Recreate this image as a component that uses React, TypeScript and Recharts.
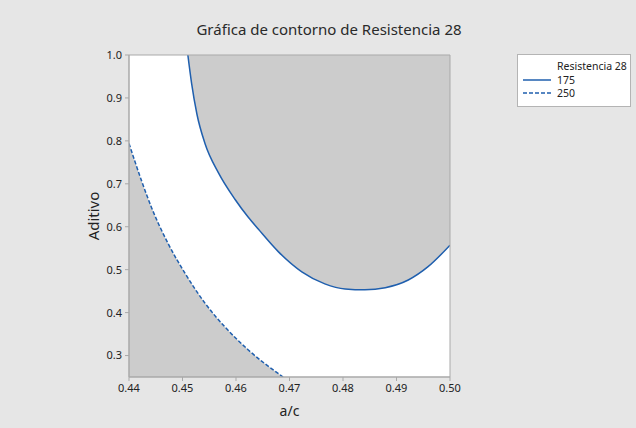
import React from 'react';
import {
    ComposedChart,
    Area,
    XAxis,
    YAxis,
    ReferenceArea,
    Legend,
    Label
} from 'recharts';

// contour 175 (solid): a/c vs Aditivo
const acSolid = [0.4510, 0.4517, 0.4527, 0.4542, 0.4567, 0.4598, 0.4623, 0.4642, 0.4679, 0.4723, 0.4766, 0.4804, 0.4841, 0.4879, 0.4922, 0.4959, 0.5000];
const aditivoSolid = [1.0, 0.934, 0.862, 0.794, 0.726, 0.664, 0.622, 0.594, 0.542, 0.495, 0.467, 0.455, 0.453, 0.458, 0.476, 0.507, 0.557];

// contour 250 (dashed)
const acDashed = [0.4400, 0.4424, 0.4442, 0.4473, 0.4505, 0.4542, 0.4579, 0.4623, 0.4688];
const aditivoDashed = [0.794, 0.705, 0.645, 0.561, 0.491, 0.422, 0.367, 0.313, 0.25];

const xTicks = [0.44, 0.45, 0.46, 0.47, 0.48, 0.49, 0.50];
const yTicks = [0.3, 0.4, 0.5, 0.6, 0.7, 0.8, 0.9, 1.0];

const levels = [
    { name: '175', dashed: false },
    { name: '250', dashed: true }
];

const FONT = '"Noto Sans", "Open Sans", sans-serif';
const BLUE = '#1f5fae';
const SHADE = '#cccccc';
const FRAME = '#a9a9a9';

const solidData = acSolid.map((x, i) => ({ ac: x, v: aditivoSolid[i] }));
const dashedData = acDashed.map((x, i) => ({ ac: x, v: aditivoDashed[i] }));

const LegendBox = () => (
    <div style={{
        width: 112, height: 51, background: '#fff', border: '1px solid #b4b4b4',
        fontFamily: FONT, fontSize: 10.5, color: '#222', position: 'relative', whiteSpace: 'nowrap'
    }}>
        <div style={{ position: 'absolute', left: 39, top: 5, height: 12, lineHeight: '12px' }}>Resistencia 28</div>
        {levels.map((l, i) => (
            <div key={l.name} style={{
                position: 'absolute', left: 4, top: 19 + i * 13, height: 12,
                display: 'flex', alignItems: 'center', lineHeight: '12px'
            }}>
                <svg width={30} height={12} style={{ display: 'block' }}>
                    <line x1={1} x2={29} y1={6} y2={6} stroke={BLUE} strokeWidth={1.5}
                        strokeDasharray={l.dashed ? '4 2' : undefined} />
                </svg>
                <span style={{ marginLeft: 5 }}>{l.name}</span>
            </div>
        ))}
    </div>
);

export default function App() {
    return (
        <div style={{ position: 'fixed', left: 0, top: 0, width: 636, height: 428, background: '#e6e6e6' }}>
            <div style={{
                position: 'absolute', left: 0, top: 19, width: 658, textAlign: 'center',
                fontFamily: FONT, fontSize: 15, color: '#2a2a2a'
            }}>
                Gráfica de contorno de Resistencia 28
            </div>
            <ComposedChart
                width={636}
                height={428}
                margin={{ top: 55, right: 186, bottom: 0, left: 89 }}
                style={{ position: 'absolute', left: 0, top: 0 }}
            >
                <XAxis
                    dataKey="ac"
                    type="number"
                    domain={[0.44, 0.5]}
                    ticks={xTicks}
                    allowDataOverflow
                    height={51}
                    tickFormatter={(v: number) => v.toFixed(2)}
                    tick={{ fill: '#222', fontSize: 11, fontFamily: FONT }}
                    tickSize={4}
                    tickMargin={3}
                    stroke={FRAME}
                >
                    <Label
                        content={({ viewBox }: any) => (
                            <text x={viewBox.x + viewBox.width / 2} y={416} textAnchor="middle"
                                fontFamily={FONT} fontSize={14} fill="#222">a/c</text>
                        )}
                    />
                </XAxis>
                <YAxis
                    type="number"
                    domain={[0.25, 1]}
                    ticks={yTicks}
                    allowDataOverflow
                    width={40}
                    tickFormatter={(v: number) => v.toFixed(1)}
                    tick={{ fill: '#222', fontSize: 11, fontFamily: FONT }}
                    tickSize={4}
                    tickMargin={3}
                    stroke={FRAME}
                >
                    <Label
                        content={({ viewBox }: any) => {
                            const cx = 93;
                            const cy = viewBox.y + viewBox.height / 2;
                            return (
                                <text x={cx} y={cy} transform={`rotate(-90 ${cx} ${cy})`} textAnchor="middle"
                                    dominantBaseline="central" fontFamily={FONT} fontSize={15} fill="#222">Aditivo</text>
                            );
                        }}
                    />
                </YAxis>
                <ReferenceArea x1={0.44} x2={0.5} y1={0.25} y2={1} fill="#ffffff" fillOpacity={1} stroke="none" />
                <Area
                    data={solidData}
                    dataKey="v"
                    type="monotone"
                    baseValue="dataMax"
                    fill={SHADE}
                    fillOpacity={1}
                    stroke={BLUE}
                    strokeWidth={1.5}
                    dot={false}
                    activeDot={false}
                    isAnimationActive={false}
                    legendType="line"
                    name="175"
                />
                <Area
                    data={dashedData}
                    dataKey="v"
                    type="monotone"
                    baseValue="dataMin"
                    fill={SHADE}
                    fillOpacity={1}
                    stroke={BLUE}
                    strokeWidth={1.5}
                    strokeDasharray="4 2"
                    dot={false}
                    activeDot={false}
                    isAnimationActive={false}
                    legendType="line"
                    name="250"
                />
                <ReferenceArea x1={0.44} x2={0.5} y1={0.25} y2={1} fill="none" stroke={FRAME} strokeWidth={1} />
                <Legend
                    layout="vertical"
                    align="center"
                    verticalAlign="middle"
                    content={() => <LegendBox />}
                    wrapperStyle={{ left: 517, top: 54, width: 114, height: 53 }}
                />
            </ComposedChart>
        </div>
    );
}
